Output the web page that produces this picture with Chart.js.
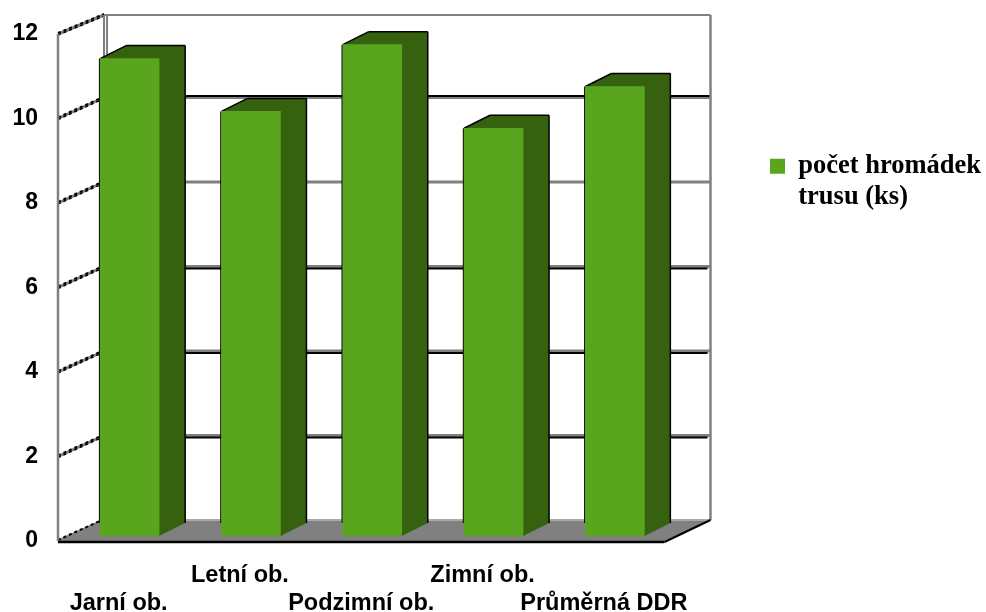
<!DOCTYPE html>
<html>
<head>
<meta charset="utf-8">
<style>
  html, body { margin: 0; padding: 0; background: #fff; }
  canvas { display: block; }
</style>
<script src="https://cdn.jsdelivr.net/npm/chart.js@4"></script>
</head>
<body>
<canvas id="droppings" width="986" height="612"></canvas>
<script>
const categories = [['', 'Jarní ob.'], ['Letní ob.', ''], ['', 'Podzimní ob.'], ['Zimní ob.', ''], ['', 'Průměrná DDR']];
const counts = [11.3, 10.05, 11.63, 9.65, 10.64];
const seriesLabel = ['počet hromádek', 'trusu (ks)'];
const yTicks = [0, 2, 4, 6, 8, 10, 12];

const FRONT = '#5aa51e';
const DARK = '#36610f';
const GREY = '#808080';

// depth of the box and of the bars, and where the bars sit inside the box
const wallDx = 46, wallDy = -21;
const barDx = 26, barDy = -13;
const barShiftX = 11, barShiftY = -5;

function line(ctx, x1, y1, x2, y2, color, width) {
    ctx.strokeStyle = color;
    ctx.lineWidth = width;
    ctx.beginPath();
    ctx.moveTo(x1, y1);
    ctx.lineTo(x2, y2);
    ctx.stroke();
}

function fillPoly(ctx, pts, color) {
    ctx.fillStyle = color;
    ctx.beginPath();
    pts.forEach((p, i) => i ? ctx.lineTo(p[0], p[1]) : ctx.moveTo(p[0], p[1]));
    ctx.closePath();
    ctx.fill();
}

const box3d = {
    id: 'box3d',
    afterLayout(chart) {
        // legend sits on its own, well clear of the plot
        const legend = chart.legend;
        legend.left = 760;
        legend.right = 986;
        legend.top = 143;
        legend.bottom = 240;
    },
    beforeDatasetsDraw(chart) {
        const { ctx, chartArea: a, scales: { y } } = chart;
        const y0 = y.getPixelForValue(0);
        const bx = a.left + wallDx, rx = a.right + wallDx;
        const backTop = y.getPixelForValue(12) + wallDy + 2;
        ctx.save();

        // floor
        fillPoly(ctx, [[a.left, y0], [bx, y0 + wallDy], [rx, y0 + wallDy], [a.right, y0]], GREY);

        // back wall grid and left wall slants
        yTicks.forEach(v => {
            const p = y.getPixelForValue(v);
            const py = v === 12 ? backTop : p + wallDy;
            if (v > 0 && v < 12) {
                line(ctx, bx, py, rx, py, GREY, 3);
                if (v === 10) line(ctx, bx, py - 1.5, rx, py - 1.5, '#000', 2);
                else if (v !== 8) line(ctx, bx, py + 2, rx - 3, py + 2, '#000', 2);
            }
            line(ctx, a.left, p, bx, py, GREY, 3);
            ctx.setLineDash([3, 3]);
            line(ctx, a.left, p - 1, bx, py - 1, '#000', 2);
            if (v > 0) line(ctx, a.left, p + 1, bx, py + 1, '#000', 1.5);
            ctx.setLineDash([]);
        });

        // box outline
        line(ctx, bx, backTop, rx, backTop, GREY, 2);
        line(ctx, rx, backTop, rx, y0 + wallDy, GREY, 2.5);
        line(ctx, bx, backTop, bx, y0 + wallDy, GREY, 2);
        line(ctx, bx + 3, backTop, bx + 3, y0 + wallDy, GREY, 2);
        line(ctx, a.left, y.getPixelForValue(12), a.left, y0, GREY, 2.5);
        line(ctx, bx, y0 + wallDy, rx, y0 + wallDy, '#aaa', 2);
        line(ctx, a.left, y0 + 1, a.right, y0 + 1, '#000', 2.5);
        line(ctx, a.right, y0 + 1, rx, y0 + wallDy, '#000', 2);

        // top and side faces of the bars
        chart.getDatasetMeta(0).data.forEach(bar => {
            const l = bar.x - bar.width / 2 + barShiftX;
            const r = bar.x + bar.width / 2 + barShiftX;
            const t = bar.y + barShiftY;
            const b = bar.base + barShiftY;
            fillPoly(ctx, [[l, t], [l + barDx, t + barDy], [r + barDx, t + barDy], [r + barDx, b + barDy], [r, b]], DARK);
            line(ctx, l, t, l + barDx, t + barDy, '#000', 1.5);
            line(ctx, l + barDx, t + barDy, r + barDx, t + barDy, '#000', 1.5);
            line(ctx, r + barDx, t + barDy, r + barDx, b + barDy, '#000', 1.5);
            line(ctx, l - 0.5, t, l - 0.5, b + barDy, '#000', 1.5);
        });
        ctx.restore();
    },
    beforeDatasetDraw(chart) {
        chart.ctx.save();
        chart.ctx.translate(barShiftX, barShiftY);
    },
    afterDatasetDraw(chart) {
        chart.ctx.restore();
    }
};

new Chart(document.getElementById('droppings'), {
    type: 'bar',
    data: {
        labels: categories,
        datasets: [{
            label: seriesLabel,
            data: counts,
            backgroundColor: FRONT,
            barThickness: 59,
            borderRadius: { topLeft: 0, topRight: 0, bottomLeft: 3, bottomRight: 3 },
            borderSkipped: false,
            clip: false
        }]
    },
    plugins: [box3d],
    options: {
        responsive: false,
        animation: false,
        layout: { padding: { top: 34, right: 100 } },
        plugins: {
            tooltip: { enabled: false },
            legend: {
                position: 'right',
                align: 'start',
                labels: {
                    boxWidth: 15,
                    boxHeight: 15,
                    padding: 10,
                    color: '#000',
                    font: { family: '"Liberation Serif"', size: 26.5, weight: 'bold', lineHeight: 1.15 }
                }
            }
        },
        scales: {
            x: {
                grid: { display: false },
                border: { display: false },
                afterFit(scale) { scale.height = 71; },
                ticks: {
                    color: '#000',
                    maxRotation: 0,
                    autoSkip: false,
                    padding: 12,
                    font: { family: '"Liberation Sans"', size: 23.5, weight: 'bold', lineHeight: 1.2 }
                }
            },
            y: {
                min: 0,
                max: 12,
                grid: { display: false },
                border: { display: false },
                afterFit(scale) { scale.width = 58; },
                afterBuildTicks(scale) { scale.ticks = yTicks.map(value => ({ value })); },
                ticks: {
                    color: '#000',
                    padding: 12,
                    font: { family: '"Liberation Sans"', size: 23, weight: 'bold' }
                }
            }
        }
    }
});
</script>
</body>
</html>
